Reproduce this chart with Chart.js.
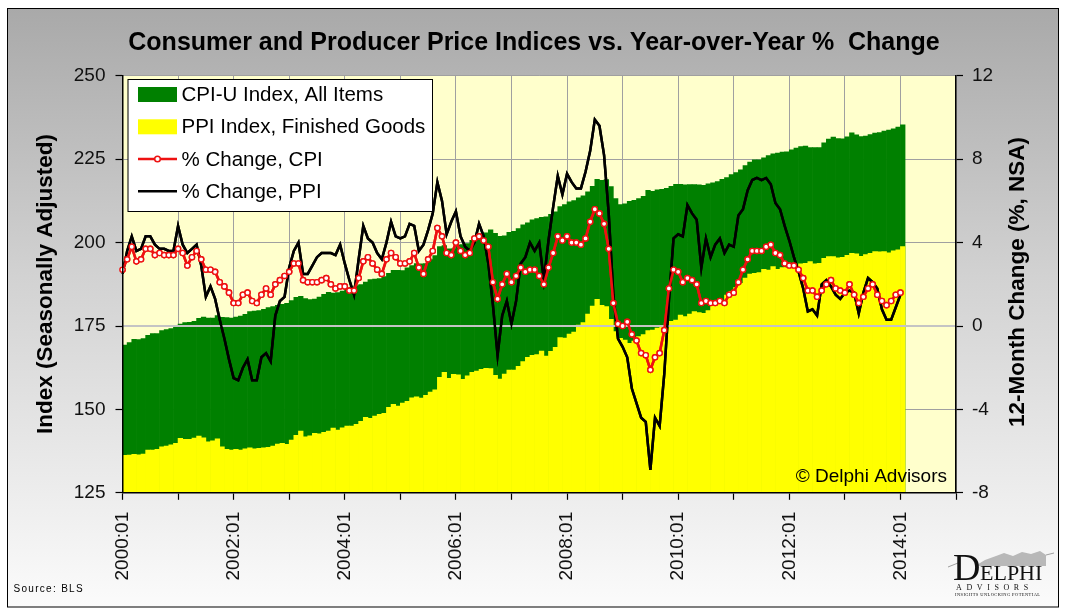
<!DOCTYPE html>
<html><head><meta charset="utf-8">
<script src="https://cdn.jsdelivr.net/npm/chart.js@4.4.0/dist/chart.umd.min.js"></script>
<style>html,body{margin:0;padding:0;background:#fff;overflow:hidden}canvas{display:block}</style>
</head><body>
<canvas id="c" width="1068" height="611"></canvas>
<script>
// ---- DATA (monthly, 2000:01 .. 2014:01) ----
const cpiIndex = [
169.3,170.0,171.0,170.9,171.2,172.2,172.7,172.7,173.6,173.9,174.2,174.6,
175.6,176.0,176.1,176.4,177.3,177.7,177.4,177.4,178.1,177.6,177.5,177.4,
177.7,178.0,178.5,179.3,179.5,179.6,180.0,180.5,180.8,181.2,181.5,181.8,
182.6,183.6,183.9,183.2,182.9,183.1,183.7,184.5,185.1,184.9,185.0,185.5,
186.3,186.7,187.1,187.4,188.2,188.9,189.1,189.2,189.8,190.8,191.7,191.7,
191.6,192.4,193.1,193.7,193.6,193.7,194.9,196.1,198.8,199.1,198.1,198.1,
199.3,199.4,199.7,200.7,201.3,201.8,202.9,203.8,202.8,201.9,202.0,203.1,
203.4,204.2,205.3,205.9,206.8,207.2,207.6,207.7,208.5,209.2,210.8,211.4,
212.2,212.6,213.4,214.0,215.2,216.9,219.0,218.7,218.9,216.8,213.2,211.4,
211.6,212.4,212.7,213.2,213.9,215.7,215.4,215.8,216.0,216.3,216.9,217.5,
217.5,217.3,217.4,217.4,217.3,217.2,217.6,217.9,218.3,219.0,219.5,220.4,
221.0,221.8,223.1,224.1,224.8,224.8,225.4,226.1,226.6,226.8,227.1,227.2,
227.8,228.3,228.8,228.9,228.5,228.5,228.5,229.9,231.0,231.6,231.2,231.1,
231.7,232.9,232.3,231.8,231.9,232.4,232.8,233.0,233.4,233.7,234.1,234.6,
235.3];
const ppiIndex = [
136.2,136.3,136.5,136.4,136.6,137.8,137.8,138.0,138.8,139.0,139.4,139.8,
141.3,141.0,141.0,141.4,142.0,141.5,140.3,140.6,141.2,138.8,138.0,137.8,
138.0,137.8,138.2,138.5,138.2,138.3,138.5,138.6,139.0,139.6,139.8,139.5,
140.8,142.2,143.5,141.8,142.1,142.8,142.7,143.1,143.5,144.4,143.8,144.5,
145.0,145.0,145.5,146.4,147.6,147.3,148.0,148.5,148.8,150.6,151.5,151.0,
151.9,152.4,153.5,153.8,153.4,154.2,155.2,155.9,159.6,161.1,159.3,160.5,
160.4,159.0,160.1,161.1,161.5,162.0,162.3,162.2,160.2,159.1,160.6,161.8,
161.8,162.9,164.3,165.6,166.2,166.4,167.5,166.0,167.4,168.6,171.5,171.4,
172.6,173.2,175.3,176.0,178.6,181.0,183.0,181.2,180.8,177.0,173.3,171.3,
170.8,169.8,170.5,171.8,172.4,173.6,173.8,174.4,174.6,175.8,176.4,176.8,
178.3,177.8,178.6,179.3,179.0,178.8,179.6,181.3,181.6,182.6,184.3,185.4,
186.6,187.8,189.4,190.6,190.8,191.0,192.0,191.8,192.8,192.0,192.5,192.5,
193.2,192.8,193.6,193.8,194.3,193.6,193.8,195.3,195.8,195.8,195.4,195.6,
196.2,196.8,196.6,195.9,196.4,196.8,197.3,197.2,197.3,196.9,197.5,197.8,
198.8];
const cpiChange = [
2.7,3.2,3.8,3.1,3.2,3.7,3.7,3.4,3.5,3.4,3.4,3.4,
3.7,3.5,2.9,3.3,3.6,3.2,2.7,2.7,2.6,2.1,1.9,1.6,
1.1,1.1,1.5,1.6,1.2,1.1,1.5,1.8,1.5,2.0,2.2,2.4,
2.6,3.0,3.0,2.2,2.1,2.1,2.1,2.2,2.3,2.0,1.8,1.9,
1.9,1.7,1.7,2.3,3.1,3.3,3.0,2.7,2.5,3.2,3.5,3.3,
3.0,3.0,3.1,3.5,2.8,2.5,3.2,3.6,4.7,4.3,3.5,3.4,
4.0,3.6,3.4,3.5,4.2,4.3,4.1,3.8,2.1,1.3,2.0,2.5,
2.1,2.4,2.8,2.6,2.7,2.7,2.4,2.0,2.8,3.5,4.3,4.1,
4.3,4.0,4.0,3.9,4.2,5.0,5.6,5.4,4.9,3.7,1.1,0.1,
0.0,0.2,-0.4,-0.7,-1.3,-1.4,-2.1,-1.5,-1.3,-0.2,1.8,2.7,
2.6,2.1,2.3,2.2,2.0,1.1,1.2,1.1,1.1,1.2,1.1,1.5,
1.6,2.1,2.7,3.2,3.6,3.6,3.6,3.8,3.9,3.5,3.4,3.0,
2.9,2.9,2.7,2.3,1.7,1.7,1.4,1.7,2.0,2.2,1.8,1.7,
1.6,2.0,1.5,1.1,1.4,1.8,2.0,1.5,1.2,1.0,1.2,1.5,
1.6];
const ppiChange = [
2.5,3.6,4.3,3.6,3.7,4.3,4.3,3.9,3.7,3.7,3.6,3.6,
4.8,3.9,3.5,3.7,3.9,2.9,1.4,1.9,1.3,0.3,-0.6,-1.6,
-2.5,-2.6,-2.0,-1.6,-2.6,-2.6,-1.5,-1.3,-1.7,0.5,1.2,1.4,
2.8,3.6,4.0,2.5,2.5,2.9,3.3,3.5,3.5,3.5,3.4,3.9,
3.0,2.2,1.5,3.2,4.8,4.2,4.0,3.5,3.2,4.0,5.0,4.3,
4.2,4.3,4.9,4.8,3.6,3.9,4.6,5.4,6.9,6.0,4.4,5.0,
5.5,4.3,3.8,3.6,4.0,4.9,4.3,3.0,1.0,-1.4,0.5,1.2,
0.1,1.2,3.0,3.3,4.0,3.6,4.0,2.2,4.1,5.7,7.2,6.3,
7.3,6.9,6.6,6.6,7.4,8.4,9.9,9.6,8.2,5.4,1.5,-0.6,
-1.0,-1.5,-3.0,-3.7,-4.4,-4.6,-6.9,-4.4,-4.8,-2.3,1.2,4.2,
4.4,4.3,5.8,5.4,5.1,2.8,4.2,3.3,3.9,4.2,3.5,3.9,
3.8,5.3,5.6,6.5,7.0,7.1,7.0,7.1,6.8,5.9,5.6,4.8,
4.1,3.3,2.6,1.8,0.7,0.8,0.5,2.0,2.2,1.9,1.5,1.3,
1.6,1.7,1.6,0.6,1.6,2.3,2.1,1.8,0.8,0.3,0.3,0.9,
1.5];
const indexTicks  = [125,150,175,200,225,250];
const changeTicks = [-8,-4,0,4,8,12];
const xTickLabels = ['2000:01','2002:01','2004:01','2006:01','2008:01','2010:01','2012:01','2014:01'];
const axisMonths = 180;   // 2000:01 .. 2015:01
const seriesNames = ['CPI-U Index, All Items','PPI Index, Finished Goods','% Change, CPI','% Change, PPI'];

// ---- STYLE ----
const FONT = "'Liberation Sans', Arial, sans-serif";
const GREEN = '#008000', YELLOW = '#ffff00', RED = '#ee1111', BLACK = '#000000';

const barPts  = a => a.map((v,i)=>({x:i+0.5, y:v}));
const linePts = a => a.map((v,i)=>({x:i, y:v}));

const decor = {
  id:'decor',
  beforeDraw(chart){
    const {ctx, chartArea:a, width, height} = chart;
    ctx.save();
    ctx.fillStyle = '#ffffff'; ctx.fillRect(0,0,width,height);
    const g = ctx.createLinearGradient(0,8,0,607);
    g.addColorStop(0,'#a9a9a9'); g.addColorStop(0.45,'#d2d2d2'); g.addColorStop(1,'#fbfbfb');
    ctx.fillStyle = g; ctx.fillRect(8,8,1051,599);
    ctx.strokeStyle = '#000'; ctx.lineWidth = 1; ctx.strokeRect(7.5,8.5,1051,598.5);
    ctx.fillStyle = '#ffffcc'; ctx.fillRect(a.left,a.top,a.right-a.left,a.bottom-a.top);
    ctx.restore();
  },
  afterDatasetsDraw(chart){
    const {ctx, chartArea:a, scales} = chart;
    const y0 = scales.y2.getPixelForValue(0);
    ctx.save();
    ctx.strokeStyle = '#c4c4c4'; ctx.lineWidth = 2;
    ctx.beginPath(); ctx.moveTo(a.left, y0); ctx.lineTo(a.right, y0); ctx.stroke();
    ctx.restore();
    [3,2].forEach(i=>{ chart.getDatasetMeta(i).controller.draw(); });
  },
  afterDraw(chart){
    const {ctx} = chart;
    ctx.save();
    // legend
    ctx.fillStyle = '#fff'; ctx.fillRect(128,79.5,304.5,132);
    ctx.strokeStyle = '#000'; ctx.lineWidth = 1; ctx.strokeRect(128,79.5,304.5,132);
    const rows = [94.5,126.8,159,191.2];
    ctx.font = '20.5px ' + FONT; ctx.textBaseline = 'middle'; ctx.textAlign = 'left';
    rows.forEach((ry,i)=>{
      if (i===0){ ctx.fillStyle = GREEN; ctx.fillRect(138,ry-7.5,39,15); }
      if (i===1){ ctx.fillStyle = YELLOW; ctx.fillRect(138,ry-7.5,39,15); }
      if (i===2){
        ctx.strokeStyle = RED; ctx.lineWidth = 2.5;
        ctx.beginPath(); ctx.moveTo(138,ry); ctx.lineTo(177,ry); ctx.stroke();
        ctx.fillStyle = '#fff'; ctx.lineWidth = 1.5;
        ctx.beginPath(); ctx.arc(157.5,ry,2.8,0,Math.PI*2); ctx.fill(); ctx.stroke();
      }
      if (i===3){
        ctx.strokeStyle = BLACK; ctx.lineWidth = 2.5;
        ctx.beginPath(); ctx.moveTo(138,ry); ctx.lineTo(177,ry); ctx.stroke();
      }
      ctx.fillStyle = '#000'; ctx.fillText(seriesNames[i], 181.5, ry+1);
    });
    // copyright
    ctx.font = '19px ' + FONT; ctx.fillStyle = '#000'; ctx.textAlign = 'right';
    ctx.fillText('\u00A9 Delphi Advisors', 947, 477);
    // axis titles
    ctx.font = 'bold 22.5px ' + FONT; ctx.textAlign = 'center'; ctx.textBaseline = 'middle';
    ctx.save(); ctx.translate(46,284); ctx.rotate(-Math.PI/2);
    ctx.fillText('Index (Seasonally Adjusted)',0,0); ctx.restore();
    ctx.save(); ctx.translate(1018,282); ctx.rotate(-Math.PI/2);
    ctx.fillText('12-Month Change (%, NSA)',0,0); ctx.restore();
    // source
    ctx.font = '10px ' + FONT; ctx.textAlign = 'left'; ctx.letterSpacing = '1.3px';
    ctx.fillText('Source: BLS', 13.5, 589);
    ctx.letterSpacing = '0px';
    // logo
    ctx.fillStyle = '#b8b8b8';
    ctx.beginPath();
    ctx.moveTo(975,566); ctx.lineTo(985,560); ctx.lineTo(996,556); ctx.lineTo(1004,553);
    ctx.lineTo(1013,556); ctx.lineTo(1022,552); ctx.lineTo(1031,554); ctx.lineTo(1040,551);
    ctx.lineTo(1046,555); ctx.lineTo(1046,566); ctx.closePath(); ctx.fill();
    ctx.strokeStyle = '#888'; ctx.lineWidth = 0.8;
    ctx.beginPath(); ctx.moveTo(948,567); ctx.lineTo(958,563); ctx.stroke();
    ctx.beginPath(); ctx.moveTo(1046,555); ctx.lineTo(1054,553); ctx.stroke();
    ctx.fillStyle = '#111'; ctx.textBaseline = 'alphabetic';
    ctx.font = '38px "Liberation Serif", serif'; ctx.fillText('D', 953, 580);
    ctx.font = '22px "Liberation Serif", serif'; ctx.fillText('ELPHI', 980, 580);
    ctx.font = '8px "Liberation Serif", serif'; ctx.letterSpacing = '4.6px';
    ctx.fillText('ADVISORS', 956, 590);
    ctx.font = '4.5px "Liberation Serif", serif'; ctx.letterSpacing = '0.4px';
    ctx.fillText('INSIGHTS UNLOCKING POTENTIAL', 955, 596);
    ctx.restore();
  }
};

new Chart(document.getElementById('c'), {
  data: {
    datasets: [
      {type:'bar', label:seriesNames[0], data:barPts(cpiIndex), yAxisID:'y', backgroundColor:GREEN,
       borderWidth:0, barPercentage:1, categoryPercentage:1, grouped:false, base:indexTicks[0], order:3},
      {type:'bar', label:seriesNames[1], data:barPts(ppiIndex), yAxisID:'y', backgroundColor:YELLOW,
       borderWidth:0, barPercentage:1, categoryPercentage:1, grouped:false, base:indexTicks[0], order:2},
      {type:'line', label:seriesNames[2], data:linePts(cpiChange), yAxisID:'y2', borderColor:RED, borderWidth:2.5,
       pointRadius:2.6, pointBorderWidth:1.4, pointBackgroundColor:'#fff', pointBorderColor:RED, tension:0, order:0},
      {type:'line', label:seriesNames[3], data:linePts(ppiChange), yAxisID:'y2', borderColor:BLACK, borderWidth:2.5,
       pointRadius:0, tension:0, order:1}
    ]
  },
  options: {
    responsive:false, animation:false, devicePixelRatio:1,
    layout:{padding:0},
    plugins:{
      legend:{display:false}, tooltip:{enabled:false},
      title:{display:true, text:'Consumer and Producer Price Indices vs. Year-over-Year %  Change',
        color:'#000', font:{family:FONT, size:25, weight:'bold', lineHeight:1.2}, padding:{top:28,bottom:17.8}}
    },
    scales:{
      x:{type:'linear', offset:false, min:0, max:axisMonths, afterFit(s){ s.height = 118.2; },
        grid:{color:'#a0a0a0', lineWidth:1, tickLength:7, tickColor:'#000', tickWidth:1.2, offset:false},
        border:{color:'#000', width:1.5, z:1},
        ticks:{stepSize:12, autoSkip:false, maxRotation:90, minRotation:90, padding:12, color:'#111',
          font:{family:FONT, size:19}, callback:v => (v%24===0 ? xTickLabels[v/24] : '')}},
      y:{type:'linear', position:'left', min:indexTicks[0], max:indexTicks[indexTicks.length-1],
        afterFit(s){ s.width = 122.5; },
        grid:{color:'#a0a0a0', lineWidth:1, tickLength:7, tickColor:'#000', tickWidth:1.2},
        border:{color:'#000', width:1.5, z:1},
        ticks:{stepSize:indexTicks[1]-indexTicks[0], padding:10, color:'#111', font:{family:FONT, size:19}}},
      y2:{type:'linear', position:'right', min:changeTicks[0], max:changeTicks[changeTicks.length-1],
        afterFit(s){ s.width = 112; },
        grid:{drawOnChartArea:false, tickLength:7, tickColor:'#000', tickWidth:1.2},
        border:{color:'#000', width:1.5, z:1},
        ticks:{stepSize:changeTicks[1]-changeTicks[0], padding:9, color:'#111', font:{family:FONT, size:19}}}
    }
  },
  plugins:[decor]
});
</script>
</body></html>
